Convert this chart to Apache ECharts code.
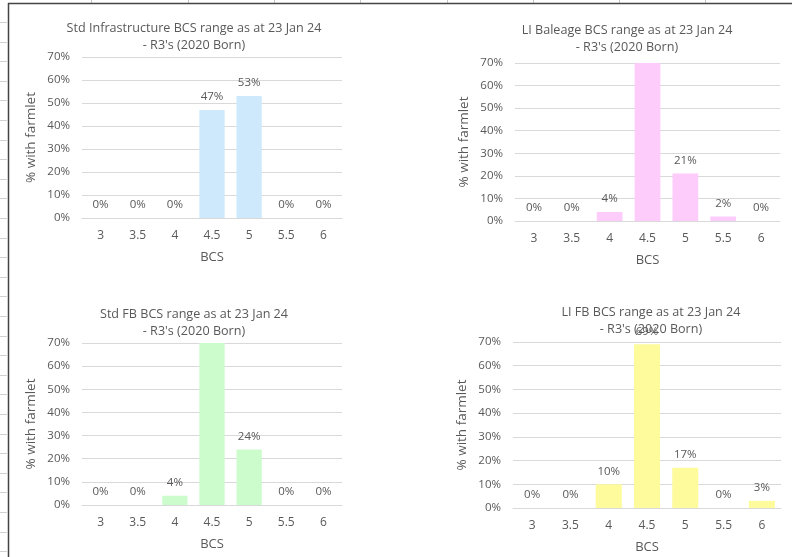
<!DOCTYPE html>
<html>
<head>
<meta charset="utf-8">
<script src="https://cdn.jsdelivr.net/npm/echarts@6/dist/echarts.min.js"></script>
<style>
  html, body { margin: 0; padding: 0; background: #fff; }
  #chart { width: 792px; height: 557px; }
</style>
</head>
<body>
<div id="chart"></div>
<script>
// BCS categories shared by all four panels
const bcsCategories = ['3', '3.5', '4', '4.5', '5', '5.5', '6']
const yTicks = [0, 10, 20, 30, 40, 50, 60, 70]

// % of animals per BCS score (values above 70% get clipped like in the sheet)
const stdInfrastructure = [0, 0, 0, 47, 53, 0, 0]
const liBaleage = [0, 0, 4, 73, 21, 2, 0]
const stdFB = [0, 0, 4, 72, 24, 0, 0]
const liFB = [0, 0, 10, 69, 17, 0, 3]

const titles = [
  'Std Infrastructure BCS range as at 23 Jan 24',
  'LI Baleage BCS range as at 23 Jan 24',
  'Std FB BCS range as at 23 Jan 24',
  'LI FB BCS range as at 23 Jan 24'
]
const subTitle = "- R3's (2020 Born)"

const panels = [
  { data: stdInfrastructure, color: '#cde9fb', grid: { left: 82, top: 57, width: 260, height: 161 }, title: { x: 189, y: 15 } },
  { data: liBaleage, color: '#fdccfb', grid: { left: 515, top: 63, width: 265, height: 158 }, title: { x: 622, y: 17 } },
  { data: stdFB, color: '#ccfccc', grid: { left: 82, top: 343, width: 260, height: 162 }, title: { x: 189, y: 301 } },
  { data: liFB, color: '#fdfb9c', grid: { left: 513, top: 342, width: 268, height: 166 }, title: { x: 646, y: 299 } }
]

const textColor = '#595959'
const font = 'Open Sans'
const yMax = yTicks[yTicks.length - 1]

// spreadsheet frame behind the charts
const sheetLines = []
;[91, 188, 274, 360, 447, 533, 619, 705].forEach(x => {
  sheetLines.push({ type: 'line', shape: { x1: x + 0.5, y1: 0, x2: x + 0.5, y2: 3 }, style: { stroke: '#c8c8c8', lineWidth: 1 } })
})
for (let y = 22; y < 557; y += 19.6) {
  sheetLines.push({ type: 'line', shape: { x1: 0, y1: Math.round(y) + 0.5, x2: 7, y2: Math.round(y) + 0.5 }, style: { stroke: '#d0d0d0', lineWidth: 1 } })
}
sheetLines.push({ type: 'line', shape: { x1: 8, y1: 3.5, x2: 792, y2: 3.5 }, style: { stroke: '#444', lineWidth: 1.5 } })
sheetLines.push({ type: 'line', shape: { x1: 8.5, y1: 3, x2: 8.5, y2: 557 }, style: { stroke: '#444', lineWidth: 1.5 } })

const chart = echarts.init(document.getElementById('chart'))

const option = {
  backgroundColor: '#fff',
  animation: false,
  graphic: sheetLines,
  title: panels.map((p, i) => ({
    text: titles[i] + '\n' + subTitle,
    left: p.title.x,
    top: p.title.y,
    textAlign: 'center',
    textStyle: { fontFamily: font, fontSize: 12.6, fontWeight: 'normal', color: textColor, lineHeight: 17 }
  })),
  grid: panels.map(p => p.grid),
  xAxis: panels.map((p, i) => ({
    type: 'category',
    gridIndex: i,
    data: bcsCategories,
    name: 'BCS',
    nameLocation: 'middle',
    nameGap: 33,
    nameTextStyle: { fontFamily: font, fontSize: 13, color: textColor },
    axisLine: { lineStyle: { color: '#d9d9d9' } },
    axisTick: { show: false },
    axisLabel: { fontFamily: font, fontSize: 12, color: textColor, margin: 12 }
  })),
  yAxis: panels.map((p, i) => ({
    type: 'value',
    gridIndex: i,
    min: 0,
    max: yMax,
    interval: 10,
    name: '% with farmlet',
    nameLocation: 'middle',
    nameGap: 44,
    nameTextStyle: { fontFamily: font, fontSize: 13.5, color: textColor },
    axisLine: { show: false },
    axisTick: { show: false },
    axisLabel: { fontFamily: font, fontSize: 11.5, color: textColor, margin: 12, formatter: v => v + '%' },
    splitLine: { lineStyle: { color: '#d9d9d9' } }
  })),
  series: panels.map((p, i) => ({
    type: 'bar',
    xAxisIndex: i,
    yAxisIndex: i,
    data: p.data,
    barCategoryGap: '32%',
    clip: true,
    itemStyle: { color: p.color },
    label: {
      show: true,
      position: 'top',
      distance: 7,
      fontFamily: font,
      fontSize: 11.5,
      color: textColor,
      formatter: d => (d.value > yMax ? '' : d.value + '%')
    }
  }))
}

chart.setOption(option)
</script>
</body>
</html>
